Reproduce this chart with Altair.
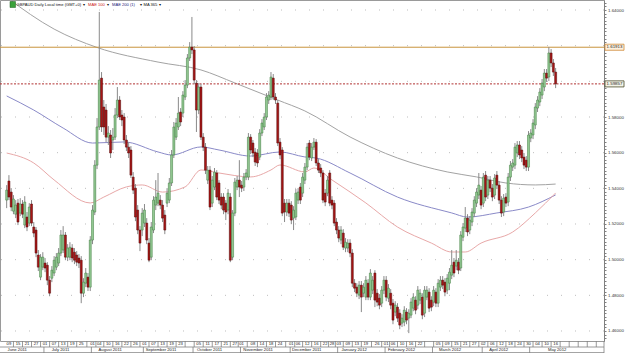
import altair as alt
import numpy as np
import pandas as pd

# ---------------- data (GBPAUD daily) ----------------
open_price = [
1.5334,1.5441,1.5379,1.5272,1.5255,1.5317,1.5261,1.5312,1.5194,1.5239,
1.5205,1.5312,1.5183,1.5166,1.5026,1.4902,1.4958,1.4981,1.4969,1.4885,
1.4896,1.4925,1.4958,1.4981,1.5037,1.5054,1.5138,1.5014,1.5014,1.5065,
1.5042,1.5026,1.5009,1.4997,1.4812,1.4868,1.4902,1.4846,1.5110,1.5267,
1.5530,1.5744,1.6018,1.5856,1.5839,1.5687,1.5699,1.5671,1.5687,1.5811,
1.5895,1.5811,1.5800,1.5671,1.5631,1.5615,1.5463,1.5401,1.5278,1.5166,
1.5166,1.5205,1.5205,1.5093,1.5014,1.5166,1.5306,1.5317,1.5334,1.5306,
1.5250,1.5317,1.5334,1.5430,1.5587,1.5687,1.5744,1.5828,1.5822,1.5912,
1.5979,1.6131,1.6192,1.6176,1.5990,1.5839,1.5968,1.5687,1.5631,1.5446,
1.5502,1.5317,1.5407,1.5486,1.5430,1.5351,1.5351,1.5317,1.5278,1.5351,
1.5014,1.5261,1.5407,1.5446,1.5418,1.5407,1.5463,1.5463,1.5687,1.5654,
1.5603,1.5598,1.5575,1.5710,1.5744,1.5800,1.5895,1.5912,1.6018,1.5912,
1.5878,1.5659,1.5615,1.5317,1.5267,1.5317,1.5306,1.5233,1.5239,1.5334,
1.5407,1.5373,1.5446,1.5519,1.5654,1.5570,1.5631,1.5659,1.5542,1.5514,
1.5486,1.5373,1.5373,1.5486,1.5334,1.5317,1.5211,1.5166,1.5110,1.5149,
1.5065,1.5065,1.5093,1.5037,1.4868,1.4846,1.4801,1.4857,1.4812,1.4790,
1.4868,1.4790,1.4829,1.4925,1.4812,1.4784,1.4756,1.4829,1.4885,1.4784,
1.4812,1.4756,1.4706,1.4734,1.4700,1.4644,1.4650,1.4706,1.4672,1.4689,
1.4728,1.4773,1.4745,1.4773,1.4790,1.4700,1.4790,1.4818,1.4773,1.4762,
1.4818,1.4756,1.4846,1.4885,1.4874,1.4829,1.4868,1.4913,1.4986,1.4964,
1.4986,1.4953,1.5126,1.5177,1.5233,1.5166,1.5211,1.5261,1.5317,1.5362,
1.5390,1.5317,1.5474,1.5362,1.5446,1.5401,1.5362,1.5474,1.5418,1.5334,
1.5267,1.5351,1.5323,1.5463,1.5519,1.5530,1.5598,1.5643,1.5615,1.5575,
1.5558,1.5519,1.5682,1.5699,1.5755,1.5850,1.5884,1.5923,1.5968,1.6046,
1.6024,1.6159,1.6103,1.6052]

high_price = [
1.5418,1.5474,1.5401,1.5362,1.5334,1.5340,1.5345,1.5334,1.5356,1.5267,
1.5317,1.5334,1.5211,1.5183,1.5054,1.5031,1.5042,1.5009,1.4986,1.4908,
1.4964,1.5020,1.5037,1.5065,1.5166,1.5188,1.5155,1.5087,1.5098,1.5087,
1.5065,1.5048,1.5031,1.5020,1.4896,1.4953,1.4925,1.5132,1.5306,1.5558,
1.5794,1.6389,1.6052,1.5895,1.5873,1.5749,1.5727,1.5738,1.5850,1.5968,
1.5917,1.5839,1.5822,1.5699,1.5659,1.5637,1.5491,1.5424,1.5306,1.5188,
1.5289,1.5312,1.5233,1.5121,1.5211,1.5356,1.5446,1.5486,1.5362,1.5334,
1.5278,1.5401,1.5458,1.5615,1.5772,1.5794,1.5912,1.5850,1.5945,1.6007,
1.6153,1.6220,1.6361,1.6198,1.6007,1.5990,1.5985,1.5710,1.5654,1.5525,
1.5525,1.5469,1.5514,1.5502,1.5446,1.5373,1.5373,1.5334,1.5396,1.5373,
1.5278,1.5458,1.5469,1.5558,1.5441,1.5486,1.5508,1.5710,1.5704,1.5671,
1.5626,1.5620,1.5732,1.5788,1.5822,1.5934,1.5945,1.6052,1.6041,1.5934,
1.5895,1.5682,1.5631,1.5340,1.5340,1.5340,1.5328,1.5300,1.5396,1.5401,
1.5430,1.5486,1.5542,1.5654,1.5671,1.5654,1.5682,1.5676,1.5564,1.5536,
1.5502,1.5396,1.5469,1.5502,1.5356,1.5334,1.5233,1.5188,1.5188,1.5171,
1.5121,1.5115,1.5115,1.5059,1.4891,1.4868,1.4880,1.4880,1.4868,1.4908,
1.4891,1.4947,1.4908,1.4941,1.4835,1.4807,1.4852,1.4908,1.4908,1.4863,
1.4835,1.4779,1.4767,1.4756,1.4722,1.4694,1.4739,1.4728,1.4722,1.4784,
1.4812,1.4795,1.4852,1.4835,1.4812,1.4852,1.4852,1.4840,1.4795,1.4852,
1.4840,1.4891,1.4908,1.4908,1.4896,1.4919,1.4953,1.5054,1.5009,1.5054,
1.5009,1.5160,1.5205,1.5295,1.5255,1.5244,1.5289,1.5356,1.5401,1.5486,
1.5413,1.5486,1.5497,1.5469,1.5469,1.5424,1.5480,1.5497,1.5441,1.5356,
1.5368,1.5373,1.5486,1.5553,1.5564,1.5654,1.5665,1.5665,1.5637,1.5598,
1.5581,1.5721,1.5732,1.5788,1.5878,1.5917,1.5962,1.6013,1.6069,1.6069,
1.6192,1.6181,1.6125,1.6075]

low_price = [
1.5289,1.5334,1.5272,1.5255,1.5233,1.5194,1.5244,1.5233,1.5177,1.5160,
1.5188,1.5188,1.5126,1.5014,1.4936,1.4885,1.4941,1.4930,1.4857,1.4795,
1.4874,1.4908,1.4941,1.4964,1.5020,1.5037,1.4997,1.4992,1.4997,1.4986,
1.4975,1.4964,1.4953,1.4756,1.4790,1.4846,1.4824,1.4824,1.5087,1.5250,
1.5508,1.5727,1.5716,1.5699,1.5659,1.5643,1.5570,1.5615,1.5671,1.5794,
1.5783,1.5749,1.5648,1.5609,1.5570,1.5458,1.5368,1.5216,1.5143,1.5048,
1.5132,1.5183,1.5087,1.4986,1.4997,1.5149,1.5278,1.5300,1.5283,1.5211,
1.5143,1.5295,1.5317,1.5413,1.5570,1.5671,1.5727,1.5749,1.5800,1.5895,
1.5962,1.6114,1.6153,1.5985,1.5716,1.5816,1.5671,1.5609,1.5480,1.5424,
1.5278,1.5295,1.5390,1.5334,1.5312,1.5283,1.5255,1.5222,1.5255,1.4986,
1.4997,1.5244,1.5390,1.5351,1.5379,1.5385,1.5446,1.5446,1.5592,1.5575,
1.5525,1.5519,1.5558,1.5693,1.5727,1.5783,1.5873,1.5895,1.5895,1.5873,
1.5637,1.5564,1.5244,1.5211,1.5244,1.5239,1.5199,1.5166,1.5222,1.5312,
1.5312,1.5351,1.5424,1.5502,1.5558,1.5553,1.5615,1.5525,1.5486,1.5463,
1.5317,1.5300,1.5356,1.5300,1.5283,1.5188,1.5143,1.5098,1.5087,1.5054,
1.5042,1.5042,1.5014,1.4846,1.4818,1.4790,1.4779,1.4706,1.4790,1.4773,
1.4773,1.4773,1.4807,1.4734,1.4739,1.4722,1.4734,1.4807,1.4767,1.4762,
1.4722,1.4638,1.4683,1.4650,1.4610,1.4622,1.4627,1.4638,1.4588,1.4672,
1.4711,1.4694,1.4722,1.4751,1.4666,1.4678,1.4773,1.4706,1.4711,1.4739,
1.4734,1.4734,1.4824,1.4835,1.4795,1.4807,1.4829,1.4891,1.4902,1.4941,
1.4919,1.4936,1.5104,1.5155,1.5132,1.5143,1.5188,1.5239,1.5295,1.5340,
1.5283,1.5295,1.5328,1.5340,1.5379,1.5328,1.5340,1.5396,1.5312,1.5239,
1.5244,1.5295,1.5300,1.5441,1.5497,1.5508,1.5575,1.5564,1.5547,1.5508,
1.5497,1.5497,1.5659,1.5676,1.5732,1.5828,1.5861,1.5901,1.5945,1.5996,
1.6002,1.6080,1.6030,1.5962]

close_price = [
1.5390,1.5351,1.5295,1.5340,1.5306,1.5211,1.5312,1.5255,1.5323,1.5183,
1.5295,1.5205,1.5149,1.5037,1.4958,1.5014,1.5014,1.4953,1.4885,1.4812,
1.4941,1.4997,1.5014,1.5037,1.5138,1.5138,1.5014,1.5065,1.5070,1.5009,
1.4997,1.4986,1.4981,1.4812,1.4874,1.4925,1.4846,1.5110,1.5278,1.5530,
1.5744,1.6007,1.5744,1.5744,1.5687,1.5710,1.5598,1.5687,1.5811,1.5895,
1.5800,1.5783,1.5671,1.5631,1.5598,1.5474,1.5390,1.5239,1.5166,1.5093,
1.5261,1.5278,1.5110,1.4997,1.5183,1.5334,1.5351,1.5373,1.5306,1.5233,
1.5166,1.5373,1.5430,1.5587,1.5744,1.5766,1.5822,1.5772,1.5923,1.5979,
1.6131,1.6192,1.6176,1.6007,1.5839,1.5968,1.5687,1.5631,1.5502,1.5502,
1.5295,1.5446,1.5491,1.5351,1.5334,1.5306,1.5278,1.5267,1.5373,1.4997,
1.5261,1.5435,1.5446,1.5407,1.5401,1.5463,1.5486,1.5687,1.5615,1.5598,
1.5547,1.5542,1.5710,1.5766,1.5800,1.5912,1.5923,1.6024,1.5912,1.5895,
1.5654,1.5587,1.5261,1.5267,1.5317,1.5261,1.5222,1.5278,1.5373,1.5379,
1.5334,1.5463,1.5519,1.5631,1.5575,1.5631,1.5659,1.5542,1.5502,1.5486,
1.5334,1.5323,1.5446,1.5317,1.5306,1.5205,1.5166,1.5121,1.5166,1.5070,
1.5098,1.5093,1.5037,1.4868,1.4840,1.4812,1.4857,1.4790,1.4846,1.4885,
1.4790,1.4925,1.4885,1.4773,1.4762,1.4745,1.4829,1.4885,1.4790,1.4840,
1.4745,1.4661,1.4745,1.4672,1.4633,1.4672,1.4717,1.4661,1.4700,1.4762,
1.4790,1.4717,1.4829,1.4812,1.4689,1.4829,1.4829,1.4728,1.4734,1.4829,
1.4756,1.4868,1.4885,1.4857,1.4818,1.4896,1.4930,1.4969,1.4925,1.4997,
1.4941,1.5138,1.5183,1.5233,1.5155,1.5222,1.5267,1.5334,1.5379,1.5418,
1.5306,1.5463,1.5351,1.5446,1.5401,1.5351,1.5458,1.5418,1.5334,1.5261,
1.5345,1.5317,1.5463,1.5530,1.5542,1.5631,1.5643,1.5587,1.5570,1.5530,
1.5519,1.5699,1.5710,1.5766,1.5856,1.5895,1.5940,1.5990,1.6046,1.6018,
1.6159,1.6103,1.6052,1.5986]

holidays = ["2011-12-26", "2012-01-02"]

# moving averages, sampled at bar numbers
ma100_bar = [0, 12, 21, 37, 43, 53, 60, 69, 79, 86, 94, 108, 117, 121, 132, 136, 144, 159, 173, 188, 197, 203, 210, 224, 234, 243]
ma100_val = [1.5598, 1.5542, 1.5447, 1.5318, 1.5351, 1.5408, 1.5419, 1.5379, 1.5408, 1.5503, 1.5486, 1.5464, 1.5503, 1.5531,
             1.5492, 1.5514, 1.5447, 1.5318, 1.5183, 1.5093, 1.5043, 1.5043, 1.5093, 1.5155, 1.5262, 1.5374]
ma200_bar = [0, 12, 25, 38, 52, 67, 73, 86, 94, 108, 121, 132, 137, 152, 173, 197, 204, 217, 231, 243]
ma200_val = [1.5918, 1.5839, 1.5738, 1.5654, 1.5660, 1.5604, 1.5587, 1.5632, 1.5615, 1.5581, 1.5604, 1.5576, 1.5570,
             1.5486, 1.5351, 1.5262, 1.5239, 1.5262, 1.5295, 1.5363]
ma365_bar = [0, 21, 40, 67, 86, 101, 120, 132, 152, 173, 195, 208, 221, 234, 243]
ma365_val = [1.6470, 1.6293, 1.6190, 1.6108, 1.6064, 1.5991, 1.5895, 1.5834, 1.5688, 1.5570, 1.5492, 1.5464, 1.5430, 1.5419, 1.5424]

level_high = 1.61913
level_last = 1.59857
y_major = [1.46, 1.48, 1.50, 1.52, 1.54, 1.56, 1.58, 1.60, 1.62, 1.64]

day_label_dates = [
"2011-06-09","2011-06-15","2011-06-21","2011-06-27","2011-07-01","2011-07-07","2011-07-13","2011-07-19","2011-07-25",
"2011-08-01","2011-08-04","2011-08-10","2011-08-16","2011-08-22","2011-08-26","2011-09-01","2011-09-07","2011-09-13",
"2011-09-19","2011-09-23","2011-10-05","2011-10-11","2011-10-17","2011-10-21","2011-10-27","2011-11-01","2011-11-08",
"2011-11-14","2011-11-18","2011-11-24","2011-12-01","2011-12-06","2011-12-12","2011-12-16","2011-12-22","2011-12-28",
"2012-01-03","2012-01-09","2012-01-13","2012-01-19","2012-01-26","2012-02-01","2012-02-06","2012-02-10","2012-02-16",
"2012-02-22","2012-03-05","2012-03-09","2012-03-15","2012-03-21","2012-03-27","2012-04-02","2012-04-06","2012-04-12",
"2012-04-18","2012-04-24","2012-04-30","2012-05-04","2012-05-10","2012-05-16"]
blank_label_dates = ["2011-09-29", "2012-02-28"]

# ---------------- tables ----------------
n = len(close_price)
dates = [d for d in pd.bdate_range("2011-06-08", "2012-07-31") if d.strftime("%Y-%m-%d") not in holidays][:n]
df = pd.DataFrame({"i": range(n), "date": dates, "open": open_price, "high": high_price,
                   "low": low_price, "close": close_price})
df["dir"] = np.where(df["close"] >= df["open"], "up", "down")

XMIN, XMAX = -0.74, 262.2
W, H = 604, 341
FONT = "Liberation Sans"
xs = alt.Scale(domain=[XMIN, XMAX], nice=False, zero=False)
ys = alt.Scale(domain=[1.45439, 1.64561], nice=False, zero=False)

ticks = [round(1.456 + 0.002 * k, 3) for k in range(95)]
label_expr = ("(abs(datum.value*50 - round(datum.value*50)) < 0.001 && abs(datum.value-1.6) > 0.001 "
              "&& abs(datum.value-1.62) > 0.001) ? format(datum.value, '.5f') : ''")
yaxis = alt.Axis(
    orient="right", values=ticks, labelExpr=label_expr, grid=False, tickSize=2,
    labelFontSize=4.4, labelFont=FONT, labelColor="#333333", labelPadding=1.5,
    domainColor="#808080", tickColor="#808080", title=None, labelOverlap=False,
    labelFlush=False, labelBound=False)


def Y(field):
    return alt.Y(field, scale=ys, axis=yaxis)


def X(field):
    return alt.X(field, scale=xs, axis=None)


idx_of = {d.strftime("%Y-%m-%d"): i for i, d in enumerate(dates)}
all_lab = sorted(day_label_dates + blank_label_dates)
day_df = pd.DataFrame({"pos": [idx_of[d] for d in all_lab],
                       "txt": ["" if d in blank_label_dates else d[-2:] for d in all_lab]})
seps = list((day_df["pos"].values[:-1] + day_df["pos"].values[1:]) / 2.0)
p = day_df["pos"].values[-1] + 2
while p < XMAX:
    seps.append(p)
    p += 4
sep_df = pd.DataFrame({"pos": seps})

df["month"] = [d.strftime("%B %Y") for d in dates]
mg = df.groupby("month", sort=False)["i"].agg(["min", "max"]).reset_index()
starts = list(mg["min"] - 0.5)
ends = list(mg["max"] + 0.5)
starts[0] = XMIN
ends[-1] = XMAX
# the month captions sit a little left of the middle of their month
mg["center"] = [(a + b) / 2 - 3.2 for a, b in zip(starts, ends)]
msep_df = pd.DataFrame({"pos": starts[1:]})

# ---------------- layers ----------------
base = alt.Chart(df)

grid = alt.Chart(pd.DataFrame({"v": y_major})).mark_rule(
    color="#bdbdbd", strokeDash=[1, 13], strokeWidth=1
).encode(y=Y("v:Q"))

ma_df = pd.concat([
    pd.DataFrame({"bar": ma365_bar, "val": ma365_val, "ma": "MA 365"}),
    pd.DataFrame({"bar": ma200_bar, "val": ma200_val, "ma": "MAE 200"}),
    pd.DataFrame({"bar": ma100_bar, "val": ma100_val, "ma": "MAE 100"}),
])
ma_lines = alt.Chart(ma_df).mark_line(strokeWidth=1, interpolate="monotone", clip=True).encode(
    x=X("bar:Q"), y=Y("val:Q"),
    color=alt.Color("ma:N", scale=alt.Scale(domain=["MA 365", "MAE 200", "MAE 100"],
                                            range=["#a3a3a3", "#8a8ac8", "#e8a8a8"]), legend=None),
    detail="ma:N",
)

wicks = base.mark_rule(color="#8a8a8a", strokeWidth=1).encode(
    x=X("i:Q"), y=Y("low:Q"), y2="high:Q")

bodies = base.mark_bar(width=2, strokeWidth=0.5).encode(
    x=X("i:Q"), y=Y("open:Q"), y2="close:Q",
    fill=alt.Fill("dir:N", scale=alt.Scale(domain=["up", "down"], range=["#93c993", "#a81616"]), legend=None),
    stroke=alt.Stroke("dir:N", scale=alt.Scale(domain=["up", "down"], range=["#3c7a3c", "#520808"]), legend=None),
)

lvl_df = pd.DataFrame({"v": [level_high, level_last], "kind": ["high", "last"],
                       "lbl": [f"{level_high:.5f}", f"{level_last:.5f}"]})
lvl_df["top"] = lvl_df["v"] + 0.0017
lvl_df["bot"] = lvl_df["v"] - 0.0017
hi_df = lvl_df[lvl_df.kind == "high"]
last_df = lvl_df[lvl_df.kind == "last"]

hi_line = alt.Chart(hi_df).mark_rule(color="#c8943c", strokeWidth=1).encode(y=Y("v:Q"))
last_line = alt.Chart(last_df).mark_rule(color="#b03030", strokeWidth=1, strokeDash=[2, 1.5]).encode(y=Y("v:Q"))
hi_box = alt.Chart(hi_df).mark_rect(fill="#fdf0de", stroke="#cf8a36", strokeWidth=0.8).encode(
    x=alt.value(W + 1), x2=alt.value(W + 20), y=Y("top:Q"), y2="bot:Q")
last_box = alt.Chart(last_df).mark_rect(fill="#f4f4e8", stroke="#4a4a2a", strokeWidth=0.8).encode(
    x=alt.value(W + 1), x2=alt.value(W + 20), y=Y("top:Q"), y2="bot:Q")
box_txt = alt.Chart(lvl_df).mark_text(fontSize=4.4, font=FONT, color="#222222", align="center",
                                      baseline="middle").encode(
    x=alt.value(W + 10.5), y=Y("v:Q"), text="lbl:N")

# bottom date rows
row_lines = alt.Chart(pd.DataFrame({"a": [0]})).mark_rule(color="#808080", strokeWidth=0.8).encode(
    x=alt.value(0), x2=alt.value(W), y=alt.value(H + 6))
row_bottom = alt.Chart(pd.DataFrame({"a": [0]})).mark_rule(color="#808080", strokeWidth=0.8).encode(
    x=alt.value(0), x2=alt.value(W), y=alt.value(H + 11.6))
day_seps = alt.Chart(sep_df).mark_rule(color="#808080", strokeWidth=0.8).encode(
    x=X("pos:Q"), y=alt.value(H), y2=alt.value(H + 6))
day_txt = alt.Chart(day_df).mark_text(fontSize=4.2, font=FONT, color="#222222", baseline="middle").encode(
    x=X("pos:Q"), y=alt.value(H + 3.2), text="txt:N")
mon_seps = alt.Chart(msep_df).mark_rule(color="#808080", strokeWidth=0.8).encode(
    x=X("pos:Q"), y=alt.value(H + 6), y2=alt.value(H + 12))
mon_txt = alt.Chart(mg).mark_text(fontSize=4.2, font=FONT, color="#222222", baseline="middle").encode(
    x=X("center:Q"), y=alt.value(H + 9), text="month:N")
right_edge = alt.Chart(pd.DataFrame({"a": [0]})).mark_rule(color="#808080", strokeWidth=0.8).encode(
    x=alt.value(W), y=alt.value(H), y2=alt.value(H + 12))

# title/legend strip at top-left
icon = alt.Chart(pd.DataFrame({"a": [0]})).mark_rect(fill="#3aa23a", stroke="#1d5e1d", strokeWidth=0.5).encode(
    x=alt.value(10), x2=alt.value(15.5), y=alt.value(1.5), y2=alt.value(7.5))
leg_items = [
    ("GBPAUD Daily Local time (GMT+0)", 16.5, "#111111"), ("\u25be", 82.5, "#111111"),
    ("MAE 100", 88, "#cc2222"), ("\u25be", 106.5, "#111111"),
    ("MAE 200 (1)", 112, "#22227a"), ("\u25be", 139.5, "#111111"),
    ("MA 365", 143.5, "#111111"), ("\u25be", 158.5, "#111111"),
]
leg_layers = [
    alt.Chart(pd.DataFrame({"t": [t]})).mark_text(fontSize=4.1, font=FONT, color=c, align="left",
                                                   baseline="middle").encode(
        x=alt.value(xp), y=alt.value(4.8), text="t:N")
    for t, xp, c in leg_items
]

chart = alt.layer(
    grid, ma_lines, hi_line, last_line, wicks, bodies, hi_box, last_box, box_txt,
    row_lines, row_bottom, day_seps, day_txt, mon_seps, mon_txt, right_edge, icon, *leg_layers
).properties(
    width=W, height=H, autosize=alt.AutoSizeParams(type="none"),
    padding={"left": 0, "top": 0, "right": 21, "bottom": 12},
    background="white",
).configure_view(stroke="#9a9a9a", strokeWidth=1)

chart.save("out.html", embed_options={"renderer": "svg", "actions": False})
